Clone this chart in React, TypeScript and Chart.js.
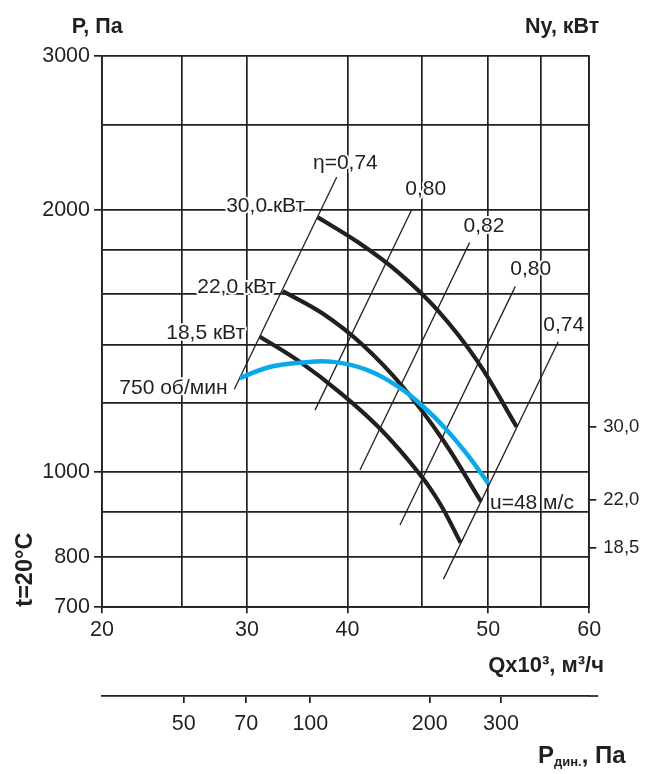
import React, { useEffect, useRef } from 'react';
import { Chart, registerables, LogarithmicScale } from 'chart.js';

Chart.register(...registerables);

// ---- Axes -----------------------------------------------------------------
// Flow rate Q, thousand m³/h (grid lines and labelled values)
const qGridValues = [20, 25, 30, 40, 45, 50, 55, 60];
const qLabelled = [20, 30, 40, 50, 60];
// Static pressure P, Pa
const pGridValues = [700, 800, 900, 1000, 1200, 1400, 1600, 1800, 2000, 2500, 3000];
const pLabelled = [700, 800, 1000, 2000, 3000];
// Dynamic pressure scale, Pa
const pDynTicks = [50, 70, 100, 200, 300];

// ---- Motor power curves (kW), Q vs P ---------------------------------------
const powerRatings = [30.0, 22.0, 18.5];
const power30Q = [36.73, 40.65, 43.31, 46.15, 49.17, 52.63];
const power30P = [1960, 1836, 1697, 1533, 1339, 1127];
const power22Q = [33.23, 37.26, 40.98, 43.66, 46.51, 49.43];
const power22P = [1613, 1520, 1399, 1253, 1090, 925];
const power18Q = [31.14, 34.91, 39.15, 42.11, 44.87, 46.32, 47.86];
const power18P = [1430, 1338, 1234, 1122, 994, 920, 830];
// Right-hand Ny scale: pressure level of each power tick
const nyTickP = [1127, 929, 818];

// ---- Fan characteristic at 750 rpm -------------------------------------
const speedRpm = 750;
const speedQ = [29.4, 32.0, 34.9, 38.4, 41.24, 43.47, 45.23, 46.68, 48.34, 50.0];
const speedP = [1282, 1320, 1335, 1338, 1310, 1249, 1184, 1124, 1049, 971];
const tipSpeed = 48; // u, m/s

// ---- Efficiency lines (η) ----------------------------------------------
const efficiencies = [0.74, 0.8, 0.82, 0.8, 0.74];
const effLowQ = [28.95, 36.45, 40.8, 43.47, 46.57];
const effLowP = [1245, 1178, 1006, 870, 754];
const effHighQ = [38.78, 44.3, 48.54, 52.49, 56.73];
const effHighP = [2178, 2002, 1833, 1632, 1411];

// ---- Styling -------------------------------------------------------------
const ink = '#231f20';
const cyan = '#0aaae8';
const font = "'Liberation Sans', Arial, Helvetica, sans-serif";
const gridWidth = 1.7;
const powerLabelOffsets = [[-12.7, -5], [-6.7, 2.3], [-15, 2.6]];
const effLabelOffsets = [[-23.7, -8], [-6.7, -14.3], [-6, -11], [-5, -11.7], [-15, -11]];

// Nomogram axes are log-spaced between calibrated stops
const qAxisStops = [20, 30, 40, 50, 60];
const qAxisFractions = [0, 0.2976, 0.5038, 0.7927, 1];
const pDynAxisStops = [50, 70, 100, 200, 300];
const pDynAxisFractions = [0.1677, 0.2961, 0.4275, 0.6725, 0.8188];

function makeStoppedLogScale(id: string, stops: number[], fractions: number[]) {
  class StoppedLogScale extends LogarithmicScale {
    static id = id;
    static defaults = {};
    getPixelForValue(value: number) {
      if (value === undefined || value === null || isNaN(value) || value <= 0) return NaN;
      let i = 0;
      while (i < stops.length - 2 && value > stops[i + 1]) i++;
      const t = Math.log(value / stops[i]) / Math.log(stops[i + 1] / stops[i]);
      return this.getPixelForDecimal(fractions[i] + t * (fractions[i + 1] - fractions[i]));
    }
    getValueForPixel(pixel: number) {
      const d = this.getDecimalForPixel(pixel);
      let i = 0;
      while (i < fractions.length - 2 && d > fractions[i + 1]) i++;
      const t = (d - fractions[i]) / (fractions[i + 1] - fractions[i]);
      return stops[i] * Math.pow(stops[i + 1] / stops[i], t);
    }
  }
  return StoppedLogScale;
}

Chart.register(
  makeStoppedLogScale('flowLog', qAxisStops, qAxisFractions) as any,
  makeStoppedLogScale('dynPressureLog', pDynAxisStops, pDynAxisFractions) as any
);

const comma = (v: number, digits: number) => v.toFixed(digits).replace('.', ',');
const pts = (qs: number[], ps: number[]) => qs.map((q, i) => ({ x: q, y: ps[i] }));

const annotations = {
  id: 'fanAnnotations',
  afterDatasetsDraw(chart: any) {
    const { ctx, scales, chartArea } = chart;
    const x = scales.x;
    const y = scales.y;
    const at = (q: number, p: number) => [x.getPixelForValue(q), y.getPixelForValue(p)];
    ctx.save();
    ctx.fillStyle = ink;
    ctx.textBaseline = 'alphabetic';

    const haloText = (text: string, px: number, py: number, align: CanvasTextAlign) => {
      ctx.textAlign = align;
      ctx.lineJoin = 'round';
      ctx.lineWidth = 4;
      ctx.strokeStyle = '#ffffff';
      ctx.strokeText(text, px, py);
      ctx.fillText(text, px, py);
    };

    ctx.font = `21px ${font}`;
    // power curve captions at the start of each curve
    const powerQ = [power30Q, power22Q, power18Q];
    const powerP = [power30P, power22P, power18P];
    powerRatings.forEach((kw, i) => {
      const [px, py] = at(powerQ[i][0], powerP[i][0]);
      haloText(`${comma(kw, 1)} кВт`, px + powerLabelOffsets[i][0], py + powerLabelOffsets[i][1], 'right');
    });
    // speed curve captions
    {
      const [sx, sy] = at(speedQ[0], speedP[0]);
      haloText(`${speedRpm} об/мин`, sx - 12.3, sy + 16, 'right');
      const n = speedQ.length - 1;
      const [ex, ey] = at(speedQ[n], speedP[n]);
      haloText(`u=${tipSpeed} м/с`, ex + 1.7, ey + 25.7, 'left');
    }
    // efficiency captions above the upper end of each line
    efficiencies.forEach((eta, i) => {
      const [px, py] = at(effHighQ[i], effHighP[i]);
      const text = (i === 0 ? 'η=' : '') + comma(eta, 2);
      haloText(text, px + effLabelOffsets[i][0], py + effLabelOffsets[i][1], 'left');
    });

    // axis titles
    ctx.font = `bold 21.5px ${font}`;
    ctx.textAlign = 'left';
    ctx.fillText('P, Па', chartArea.left - 30.3, 33.3);
    ctx.fillText('Ny, кВт', 525, 33.3);
    ctx.font = `bold 22px ${font}`;
    ctx.textAlign = 'right';
    ctx.fillText('Qx10³, м³/ч', 604, 671.7);

    // dynamic pressure title with subscript
    ctx.textAlign = 'left';
    let tx = 538;
    ctx.font = `bold 24px ${font}`;
    ctx.fillText('P', tx, 763);
    tx += ctx.measureText('P').width;
    ctx.font = `bold 13px ${font}`;
    ctx.fillText('дин.', tx, 766);
    tx += ctx.measureText('дин.').width;
    ctx.font = `bold 24px ${font}`;
    ctx.fillText(', Па', tx, 763);

    // temperature note, rotated
    ctx.save();
    ctx.translate(32.3, 606.7);
    ctx.rotate(-Math.PI / 2);
    ctx.font = `bold 23.5px ${font}`;
    ctx.textAlign = 'left';
    ctx.fillText('t=20°C', 0, 0);
    ctx.restore();

    // dynamic pressure axis line runs slightly past the grid
    const pd = scales.pdyn;
    ctx.strokeStyle = ink;
    ctx.lineWidth = gridWidth;
    ctx.beginPath();
    ctx.moveTo(chartArea.right - 1, pd.top);
    ctx.lineTo(chartArea.right + 9, pd.top);
    ctx.stroke();

    ctx.restore();
  },
};

const tickMark = (labelled: number[]) => (c: any) =>
  c.tick && labelled.includes(c.tick.value) ? ink : 'rgba(0,0,0,0)';

export default function App() {
  const ref = useRef<HTMLCanvasElement>(null);

  useEffect(() => {
    Chart.defaults.font.family = font;
    Chart.defaults.color = ink;

    const powerSets = [
      pts(power30Q, power30P),
      pts(power22Q, power22P),
      pts(power18Q, power18P),
    ].map((data) => ({
      data,
      borderColor: ink,
      borderWidth: 4.2,
      pointRadius: 0,
      tension: 0.4,
      order: 1,
    }));

    const effSets = efficiencies.map((_, i) => ({
      data: [
        { x: effLowQ[i], y: effLowP[i] },
        { x: effHighQ[i], y: effHighP[i] },
      ],
      borderColor: ink,
      borderWidth: 1.3,
      pointRadius: 0,
      tension: 0,
      order: 2,
    }));

    const speedSet = {
      data: pts(speedQ, speedP),
      borderColor: cyan,
      borderWidth: 4.5,
      pointRadius: 0,
      tension: 0.4,
      order: 0,
    };

    const chart = new Chart(ref.current as HTMLCanvasElement, {
      type: 'line',
      data: { datasets: [speedSet, ...powerSets, ...effSets] as any },
      options: {
        responsive: false,
        animation: false,
        events: [],
        layout: { padding: { top: 56, left: 0, right: 0, bottom: 0 } },
        plugins: { legend: { display: false }, tooltip: { enabled: false } },
        elements: { point: { radius: 0 } },
        scales: {
          x: {
            type: 'flowLog' as any,
            position: 'bottom',
            weight: 0,
            min: 20,
            max: 60,
            afterBuildTicks: (s: any) => {
              s.ticks = qGridValues.map((v) => ({ value: v }));
            },
            afterFit: (s: any) => {
              s.height = 88.7;
            },
            grid: {
              color: ink,
              lineWidth: gridWidth,
              tickLength: 6,
              tickWidth: gridWidth,
              tickColor: tickMark(qLabelled),
            },
            border: { color: ink, width: gridWidth },
            ticks: {
              autoSkip: false,
              maxRotation: 0,
              padding: 3.4,
              color: ink,
              font: { size: 21.5 },
              callback: (v: any) => (qLabelled.includes(Number(v)) ? String(v) : ''),
            },
          } as any,
          pdyn: {
            type: 'dynPressureLog' as any,
            position: 'bottom',
            weight: 1,
            min: 31.5,
            max: 494,
            afterBuildTicks: (s: any) => {
              s.ticks = pDynTicks.map((v) => ({ value: v }));
            },
            afterFit: (s: any) => {
              s.height = 78;
            },
            grid: {
              drawOnChartArea: false,
              color: ink,
              lineWidth: gridWidth,
              tickLength: 7,
              tickWidth: gridWidth,
            },
            border: { color: ink, width: gridWidth },
            ticks: {
              autoSkip: false,
              maxRotation: 0,
              padding: 7.7,
              color: ink,
              font: { size: 21.5 },
              callback: (v: any) => String(v),
            },
          } as any,
          y: {
            type: 'logarithmic',
            position: 'left',
            min: 700,
            max: 3000,
            afterBuildTicks: (s: any) => {
              s.ticks = pGridValues.map((v) => ({ value: v }));
            },
            afterFit: (s: any) => {
              s.width = 102;
            },
            grid: {
              color: ink,
              lineWidth: gridWidth,
              tickLength: 8,
              tickWidth: gridWidth,
              tickColor: tickMark(pLabelled),
            },
            border: { color: ink, width: gridWidth },
            ticks: {
              autoSkip: false,
              padding: 4,
              color: ink,
              font: { size: 21.5 },
              callback: (v: any) => (pLabelled.includes(Number(v)) ? String(v) : ''),
            },
          } as any,
          ny: {
            type: 'logarithmic',
            position: 'right',
            min: 700,
            max: 3000,
            afterBuildTicks: (s: any) => {
              s.ticks = nyTickP.map((v) => ({ value: v }));
            },
            afterFit: (s: any) => {
              s.width = 64.7;
            },
            grid: {
              drawOnChartArea: false,
              color: ink,
              lineWidth: gridWidth,
              tickLength: 7,
              tickWidth: gridWidth,
            },
            border: { color: ink, width: gridWidth },
            ticks: {
              autoSkip: false,
              padding: 7,
              color: ink,
              font: { size: 18.5 },
              callback: (_v: any, i: number) => comma(powerRatings[i], 1),
            },
          } as any,
        },
      },
      plugins: [annotations],
    });

    return () => chart.destroy();
  }, []);

  return (
    <div style={{ position: 'absolute', left: 0, top: 0, width: 654, height: 774, background: '#ffffff' }}>
      <canvas ref={ref} width={654} height={774} style={{ display: 'block', width: 654, height: 774 }} />
    </div>
  );
}
